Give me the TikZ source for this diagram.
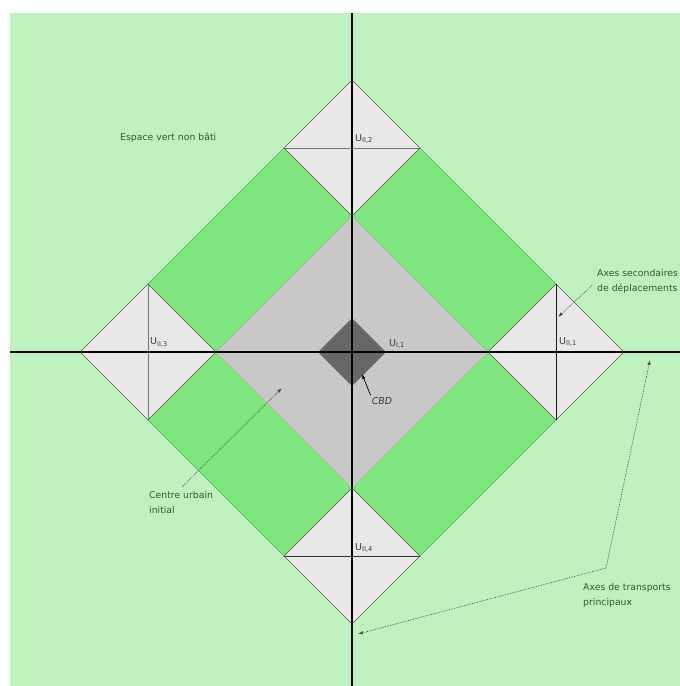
\documentclass[tikz,border=0pt]{standalone}
\usepackage{fontspec}
\setmainfont{DejaVu Sans}
\usetikzlibrary{arrows.meta}
\definecolor{bgreen}{HTML}{C0F2C0}
\definecolor{sgreen}{HTML}{80E680}
\definecolor{edgegreen}{HTML}{4CB84C}
\definecolor{midgray}{HTML}{C8C8C8}
\definecolor{lightgray2}{HTML}{E8E8E8}
\definecolor{cbdgray}{HTML}{666666}
\definecolor{txtgreen}{HTML}{2A5E2A}
\definecolor{lblgray}{HTML}{3C3C3C}
\tikzset{
  strip/.style={fill=sgreen, draw=edgegreen, line width=0.6pt},
  smalld/.style={fill=lightgray2, draw=black!65, line width=0.6pt},
  axisline/.style={draw=black, line width=1.6pt},
  innerline/.style={line width=1pt},
  legend/.style={text=txtgreen, font=\fontsize{9.3}{15}\selectfont, align=left, inner sep=0pt},
  ulabel/.style={text=lblgray, font=\fontsize{9.5}{12}\selectfont, inner sep=0pt},
  callout/.style={draw=black!70, densely dotted, line width=0.7pt, -{Latex[length=5pt,width=3.5pt]}},
}
\begin{document}
\begin{tikzpicture}[x=1pt,y=-1pt]
\useasboundingbox (0,0) rectangle (680,686);
\fill[white] (0,0) rectangle (680,686);
\fill[bgreen] (10,13) rectangle (680,686);
% green strips
\draw[strip] (216,352) -- (352,216) -- (284,148) -- (148,284) -- cycle;
\draw[strip] (352,216) -- (488,352) -- (556,284) -- (420,148) -- cycle;
\draw[strip] (488,352) -- (352,488) -- (420,556) -- (556,420) -- cycle;
\draw[strip] (352,488) -- (216,352) -- (148,420) -- (284,556) -- cycle;
% central grey diamond
\fill[midgray] (352,216) -- (488,352) -- (352,488) -- (216,352) -- cycle;
% small diamonds
\draw[smalld] (352,80) -- (420,148) -- (352,216) -- (284,148) -- cycle;
\draw[smalld] (80,352) -- (148,284) -- (216,352) -- (148,420) -- cycle;
\draw[smalld] (488,352) -- (556,284) -- (624,352) -- (556,420) -- cycle;
\draw[smalld] (352,488) -- (420,556) -- (352,624) -- (284,556) -- cycle;
% inner secondary lines
\draw[innerline, draw=black!55] (284,148) -- (420,148);
\draw[innerline, draw=black!55] (148,284) -- (148,420);
\draw[innerline, draw=black!90] (556,284) -- (556,420);
\draw[innerline, draw=black!80] (284,556) -- (420,556);
% CBD
\fill[cbdgray] (352,318) -- (386,352) -- (352,386) -- (318,352) -- cycle;
% main axes
\draw[axisline] (352,13) -- (352,686);
\draw[axisline] (10,352) -- (680,352);
% labels
\node[ulabel, anchor=west] (u11) at (389,344) {U\textsubscript{I,1}};
\node[ulabel, anchor=west] (u22) at (355,139) {U\textsubscript{II,2}};
\node[ulabel, anchor=west] (u23) at (150,342) {U\textsubscript{II,3}};
\node[ulabel, anchor=west] (u21) at (559,342) {U\textsubscript{II,1}};
\node[ulabel, anchor=west] (u24) at (355,548) {U\textsubscript{II,4}};
\node[ulabel, font=\fontsize{9.5}{12}\selectfont\itshape] (cbd) at (382,401) {CBD};
\coordinate (cbdtip) at (362,374);
\draw[black, line width=0.7pt, -{Latex[length=5pt,width=3.5pt]}] (cbd.north west) ++(-1,-2) -- (cbdtip);
% legends
\node[legend, anchor=west] (espace) at (120,138) {Espace vert non bâti};
\node[legend, anchor=north west] (axsec) at (597,269) {Axes secondaires\\de déplacements};
\node[legend, anchor=north west] (axprin) at (583,583) {Axes de transports\\principaux};
\node[legend, anchor=north west] (centre) at (149,491) {Centre urbain\\initial};
% callouts
\coordinate (sectip) at (558,317);
\draw[callout] (axsec.south west) ++(-5,-8) -- (sectip);
\coordinate (centretip) at (282,388);
\draw[callout] (centre.north west) ++(33,-4) -- (centretip);
\coordinate (junction) at (606,568);
\coordinate (tipA) at (650,360);
\coordinate (tipB) at (358,634);
\draw[callout] (junction) -- (tipA);
\draw[callout] (junction) -- (tipB);
\end{tikzpicture}
\end{document}
